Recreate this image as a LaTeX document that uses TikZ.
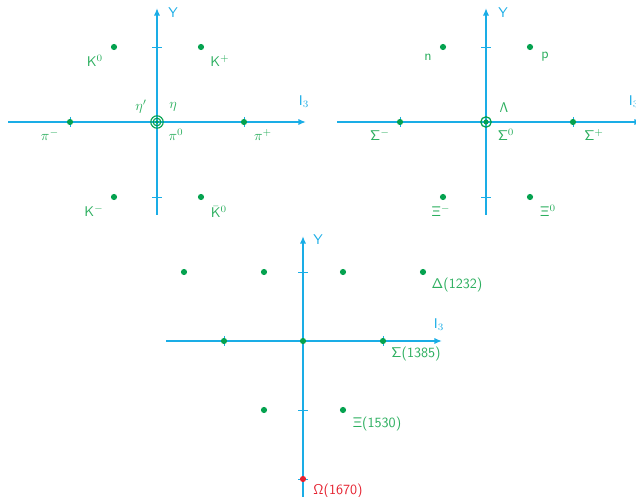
\documentclass[tikz,border=0pt]{standalone}
\usepackage{amsmath}
\usetikzlibrary{arrows.meta,positioning}
\definecolor{axisblue}{HTML}{1AADE6}
\definecolor{dotgreen}{HTML}{05A24F}
\definecolor{lblgreen}{HTML}{2BAE5E}
\definecolor{omegared}{HTML}{E52230}

\begin{document}
\begin{tikzpicture}[x=0.025cm,y=-0.025cm,font=\sffamily,
   axis/.style={axisblue,line width=1.3pt,-{Latex[length=5.5pt,width=4.5pt]}},
   tickmark/.style={axisblue,line width=0.6pt},
   pt/.style={circle,fill=dotgreen,inner sep=0pt,minimum size=4.4pt},
   lbl/.style={text=lblgreen,inner sep=1pt},
   axlbl/.style={text=axisblue,inner sep=1pt}]
  \useasboundingbox (0,0) rectangle (636,497);

  % --- pseudoscalar mesons ---
  \coordinate (m0) at (157,122);
  \coordinate (mL) at (8,122);   \coordinate (mR) at (306,122);
  \coordinate (mB) at (157,215); \coordinate (mT) at (157,8);
  \draw[axis] (mL) -- (mR);
  \draw[axis] (mB) -- (mT);
  \foreach \yy in {47,197} \draw[tickmark] (152,\yy) -- (162,\yy);
  \foreach \xx in {70,244} \draw[tickmark] (\xx,117) -- (\xx,127);
  \node[pt] (kz)  at (114,47)  {};
  \node[pt] (kp)  at (201,47)  {};
  \node[pt] (km)  at (114,197) {};
  \node[pt] (kzb) at (201,197) {};
  \node[pt] (pim) at (70,122)  {};
  \node[pt] (pip) at (244,122) {};
  \draw[dotgreen,line width=0.8pt] (m0) circle (6.2);
  \draw[dotgreen,line width=0.8pt] (m0) circle (3.8);
  \fill[dotgreen] (m0) circle (1.8);
  \node[lbl] at (95,61)   {K$^0$};
  \node[lbl] at (220,61)  {K$^+$};
  \node[lbl] at (94,211)  {K$^-$};
  \node[lbl] at (219,212) {$\bar{\mathsf{K}}^0$};
  \node[lbl] at (50,135)  {$\pi^-$};
  \node[lbl] at (263,135) {$\pi^+$};
  \node[lbl] at (176,135) {$\pi^0$};
  \node[lbl] at (141,107) {$\eta'$};
  \node[lbl] at (173,107) {$\eta$};
  \node[axlbl] at (173,13)  {Y};
  \node[axlbl] at (304,102) {I$_3$};

  % --- baryon octet ---
  \coordinate (b0) at (486,122);
  \coordinate (bL) at (337,122); \coordinate (bR) at (642,122);
  \coordinate (bB) at (486,215); \coordinate (bT) at (486,8);
  \draw[axis] (bL) -- (bR);
  \draw[axis] (bB) -- (bT);
  \foreach \yy in {47,197} \draw[tickmark] (481,\yy) -- (491,\yy);
  \foreach \xx in {400,573} \draw[tickmark] (\xx,117) -- (\xx,127);
  \node[pt] (nn)  at (443,47)  {};
  \node[pt] (pp)  at (530,47)  {};
  \node[pt] (xim) at (443,197) {};
  \node[pt] (xiz) at (530,197) {};
  \node[pt] (sgm) at (400,122) {};
  \node[pt] (sgp) at (573,122) {};
  \draw[dotgreen,line width=0.9pt] (b0) circle (5.2);
  \fill[dotgreen] (b0) circle (2.6);
  \node[lbl] at (428,57)  {n};
  \node[lbl] at (545,57)  {p};
  \node[lbl] at (504,108) {$\mathsf{\Lambda}$};
  \node[lbl] at (506,135) {$\mathsf{\Sigma}^0$};
  \node[lbl] at (380,135) {$\mathsf{\Sigma}^-$};
  \node[lbl] at (594,135) {$\mathsf{\Sigma}^+$};
  \node[lbl] at (441,211) {$\mathsf{\Xi}^-$};
  \node[lbl] at (548,211) {$\mathsf{\Xi}^0$};
  \node[axlbl] at (503,13)  {Y};
  \node[axlbl] at (634,102) {I$_3$};

  % --- baryon decuplet ---
  \coordinate (d0) at (303,341);
  \coordinate (dL) at (166,341); \coordinate (dR) at (442,341);
  \coordinate (dB) at (303,500); \coordinate (dT) at (303,236);
  \draw[axis] (dL) -- (dR);
  \draw[axis] (dB) -- (dT);
  \foreach \yy in {272,410,479} \draw[tickmark] (298,\yy) -- (308,\yy);
  \foreach \xx in {224,383} \draw[tickmark] (\xx,336) -- (\xx,346);
  \foreach \xx [count=\i] in {184,264,343,423}
    \node[pt] (del\i) at (\xx,272) {};
  \foreach \xx [count=\i] in {224,303,383}
    \node[pt] (sig\i) at (\xx,341) {};
  \foreach \xx [count=\i] in {264,343}
    \node[pt] (xi\i) at (\xx,410) {};
  \node[pt,fill=omegared] (om) at (303,479) {};
  \node[lbl] at (457,285) {$\mathsf{\Delta}$(1232)};
  \node[lbl] at (416,354) {$\mathsf{\Sigma}$(1385)};
  \node[lbl] at (377,424) {$\mathsf{\Xi}$(1530)};
  \node[lbl,text=omegared] at (338,491) {$\mathsf{\Omega}$(1670)};
  \node[axlbl] at (318,240) {Y};
  \node[axlbl] at (439,325) {I$_3$};
\end{tikzpicture}
\end{document}
